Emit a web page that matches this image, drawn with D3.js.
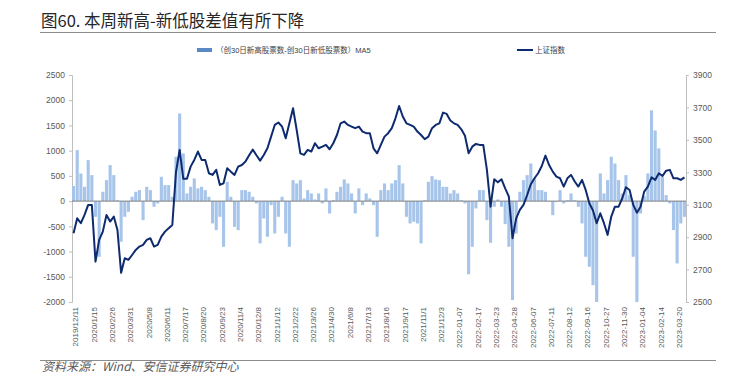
<!DOCTYPE html>
<meta charset="utf-8">
<head>
<script src="https://cdn.jsdelivr.net/npm/d3@7"></script>
</head>
<style>
body { margin: 0; background: #fff; }
text { font-family: "Liberation Sans", "Noto Sans CJK SC", sans-serif; }
.axis path, .axis line { stroke: #bfbfbf; }
.axis text { fill: #595959; font-size: 8.5px; }
</style>
<body></body>
<script>
// x tick labels, one every 5 points (points are ~5 trading days apart)
var tickLabels = ["2019/12/11","2020/1/15","2020/2/26","2020/3/31","2020/5/8","2020/6/11","2020/7/17",
  "2020/8/20","2020/9/23","2020/11/4","2020/12/8","2021/1/12","2021/2/22","2021/3/26","2021/4/30",
  "2021/6/8","2021/7/13","2021/8/16","2021/9/17","2021/11/1","2021/12/3","2022-01-07","2022-02-17",
  "2022-03-23","2022-04-28","2022-06-07","2022-07-11","2022-08-12","2022-09-16","2022-10-27",
  "2022-11-30","2023-01-04","2023-02-14","2023-03-20"];

// (new 30d highs - new 30d lows) MA5
var diff = [300,1011,548,284,812,515,-311,-1103,185,416,
  714,515,20,-806,-311,-212,86,185,218,-377,
  284,218,-112,-46,482,317,317,86,879,1737,
  945,152,284,449,251,284,218,86,-443,-575,
  -311,-905,383,86,-509,-575,218,218,185,86,
  -46,-839,-344,-707,-79,-641,-311,86,-641,-905,
  416,350,416,53,218,152,33,152,-46,251,
  -245,20,185,284,429,350,152,-245,251,-79,
  152,53,-79,-707,218,350,218,350,416,713,
  350,-311,-443,-410,-443,-839,20,383,495,429,
  416,284,284,152,218,152,20,-46,-1450,-905,
  -145,218,218,-377,-826,-112,33,-112,-456,-905,
  -1962,-641,185,416,515,746,449,218,218,185,
  -13,-278,-13,218,-46,20,152,20,-112,-443,
  -1104,-1302,-1665,-2000,548,152,416,879,746,416,
  152,515,119,-1104,-2000,-245,99,548,1800,1400,
  1044,482,119,-46,-575,-1236,-443,-311];

// 上证指数
var sh = [2924,3016,2986,3037,3099,3099,2749,2883,2934,3037,
  2996,3027,2944,2680,2770,2760,2790,2821,2842,2852,
  2883,2893,2842,2852,2903,2934,2955,2975,3300,3438,
  3260,3260,3335,3376,3428,3376,3376,3294,3284,3315,
  3222,3232,3325,3304,3284,3335,3345,3366,3405,3440,
  3405,3372,3407,3448,3520,3592,3607,3582,3510,3602,
  3695,3561,3417,3407,3438,3428,3479,3448,3458,3469,
  3442,3479,3530,3602,3613,3592,3582,3572,3582,3551,
  3541,3541,3448,3417,3469,3520,3541,3572,3633,3709,
  3644,3602,3592,3582,3551,3530,3504,3520,3572,3592,
  3602,3668,3660,3619,3602,3592,3565,3525,3417,3458,
  3475,3469,3469,3315,3088,3257,3238,3257,3201,3150,
  2893,3016,3068,3099,3160,3226,3263,3294,3339,3403,
  3345,3304,3273,3263,3212,3263,3284,3243,3212,3253,
  3191,3109,3064,2986,3047,2986,2914,3027,3088,3088,
  3140,3208,3191,3099,3051,3088,3181,3212,3269,3253,
  3294,3277,3310,3315,3263,3263,3253,3269];

var width = 735, height = 380;
var svg = d3.select("body").append("svg")
    .attr("width", width)
    .attr("height", height);

var x = d3.scaleBand().domain(d3.range(diff.length)).range([72, 686]).paddingInner(0.15);
var yL = d3.scaleLinear().domain([-2000, 2500]).range([302, 75]);
var yR = d3.scaleLinear().domain([2500, 3900]).range([302, 75]);
var bw = x.bandwidth();

// title + rules
svg.append("text").attr("x", 41).attr("y", 27)
    .style("font-family", "'Noto Sans CJK SC', sans-serif")
    .style("font-size", "16.5px").style("fill", "#262626")
    .text("图60. 本周新高-新低股差值有所下降");
svg.append("line").attr("x1", 40).attr("x2", 716).attr("y1", 32.5).attr("y2", 32.5)
    .style("stroke", "#8c8c8c").style("stroke-width", 1.2);
svg.append("line").attr("x1", 40).attr("x2", 716).attr("y1", 360.5).attr("y2", 360.5)
    .style("stroke", "#8c8c8c").style("stroke-width", 1.2);
svg.append("text").attr("x", 42).attr("y", 371)
    .style("font-family", "'Noto Sans CJK SC', sans-serif")
    .style("font-size", "12px").style("font-style", "italic").style("fill", "#595959")
    .text("资料来源：Wind、安信证券研究中心");

// legend
svg.append("rect").attr("x", 197).attr("y", 48).attr("width", 15).attr("height", 4).style("fill", "#5a8ac6");
svg.append("text").attr("x", 216).attr("y", 53).style("font-size", "7.5px").style("fill", "#404040")
    .text("（创30日新高股票数-创30日新低股票数）MA5");
svg.append("line").attr("x1", 517).attr("x2", 533).attr("y1", 50).attr("y2", 50)
    .style("stroke", "#0d2b6e").style("stroke-width", 2);
svg.append("text").attr("x", 535).attr("y", 53).style("font-size", "7.5px").style("fill", "#404040")
    .text("上证指数");

// axes
svg.append("g").attr("class", "axis").attr("transform", "translate(72,0)")
    .call(d3.axisLeft(yL).tickValues(d3.range(-2000, 2501, 500)).tickSize(3).tickPadding(4)
      .tickFormat(function(d) { return String(d); }));
svg.append("g").attr("class", "axis").attr("transform", "translate(686,0)")
    .call(d3.axisRight(yR).tickValues(d3.range(2500, 3901, 200)).tickSize(3).tickPadding(4)
      .tickFormat(d3.format("d")));

// bars
svg.append("g").selectAll("rect").data(diff).enter().append("rect")
    .attr("x", function(d, i) { return x(i); })
    .attr("width", bw)
    .attr("y", function(d) { return d > 0 ? yL(d) : yL(0); })
    .attr("height", function(d) { return Math.abs(yL(d) - yL(0)); })
    .style("fill", "#a7c5ea");

// zero line
svg.append("line").attr("x1", 72).attr("x2", 686).attr("y1", yL(0)).attr("y2", yL(0))
    .style("stroke", "#7f7f7f").style("stroke-width", 1);

// index line
var line = d3.line()
    .x(function(d, i) { return x(i) + bw / 2; })
    .y(function(d) { return yR(d); });
svg.append("path").datum(sh).attr("d", line)
    .style("fill", "none").style("stroke", "#0d2b6e").style("stroke-width", 2)
    .style("stroke-linejoin", "round");

// x labels
svg.append("g").selectAll("text").data(tickLabels).enter().append("text")
    .attr("transform", function(d, k) {
      return "translate(" + (x(k * 5) + bw / 2 + 2) + ",307) rotate(-90)";
    })
    .attr("text-anchor", "end").attr("dy", "0.35em")
    .style("font-size", "8px").style("fill", "#595959")
    .text(function(d) { return d; });
</script>
